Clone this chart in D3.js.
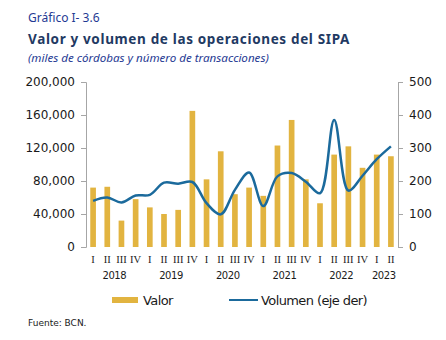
<!DOCTYPE html>
<html>
<head>
<meta charset="utf-8">
<script src="https://cdn.jsdelivr.net/npm/d3@7"></script>
<style>
	body { margin: 0; background: #fff; }
	svg text { fill: #1a1a1a; }
</style>
</head>
<body>
<svg id="chart" width="446" height="340"></svg>
<script>
// quarters 2018 I .. 2023 II
const years = ['2018', '2019', '2020', '2021', '2022', '2023'];
const quarters = ['I', 'II', 'III', 'IV'];
const periods = [];
years.forEach(y => quarters.forEach(q => {
	if (!(y === '2023' && (q === 'III' || q === 'IV'))) periods.push(`${y}-${q}`);
}));

// miles de córdobas
const valor = [72000, 73000, 32000, 58000, 48000, 40000, 45000, 165000, 82000, 116000, 64000, 72000,
	62000, 123000, 154000, 82000, 53000, 112000, 122000, 96000, 112000, 110000];
// número de transacciones
const volumen = [140, 150, 135, 156, 158, 195, 192, 197, 133, 99, 173, 226,
	124, 214, 224, 198, 163, 385, 171, 216, 266, 305];

const leftTicks = [0, 40000, 80000, 120000, 160000, 200000];
const rightTicks = [0, 100, 200, 300, 400, 500];

const gold = '#e2b440';
const blue = '#1b6a9c';
const navy = '#1f3a63';

const svg = d3.select('#chart');

const margins = { left: 86, right: 48, top: 82, bottom: 93 };
const width = 446 - margins.left - margins.right;
const height = 340 - margins.top - margins.bottom;

// header
svg.append('text')
	.attr('x', 28).attr('y', 22)
	.style('font', '12px "Noto Sans"')
	.style('fill', '#1f3a93')
	.text('Gráfico I- 3.6');

svg.append('text')
	.attr('x', 28).attr('y', 44)
	.style('font', 'bold 13.5px "Noto Sans"')
	.style('letter-spacing', '0.65px')
	.style('fill', navy)
	.text('Valor y volumen de las operaciones del SIPA');

svg.append('text')
	.attr('x', 28).attr('y', 62)
	.style('font', 'italic 11.6px "Noto Sans"')
	.style('fill', '#1f3a93')
	.text('(miles de córdobas y número de transacciones)');

const g = svg.append('g')
	.attr('transform', `translate(${margins.left},${margins.top})`);

const x = d3.scaleBand()
	.domain(periods)
	.range([0, width])
	.paddingInner(0.6)
	.paddingOuter(0.3);

const yLeft = d3.scaleLinear().domain([0, 200000]).range([height, 0]);
const yRight = d3.scaleLinear().domain([0, 500]).range([height, 0]);

const fmt = d3.format(',');

const axisL = g.append('g')
	.call(d3.axisLeft(yLeft).tickValues(leftTicks).tickFormat(fmt).tickSize(5).tickPadding(6));
const axisR = g.append('g')
	.attr('transform', `translate(${width},0)`)
	.call(d3.axisRight(yRight).tickValues(rightTicks).tickSize(5).tickPadding(6));

[axisL, axisR].forEach(a => {
	a.selectAll('path, line').attr('stroke', '#a6a6a6');
	a.selectAll('text').style('font', '12px "DejaVu Sans"').style('fill', '#1a1a1a');
});

// bars
g.selectAll('.bar')
	.data(valor)
	.enter().append('rect')
	.attr('class', 'bar')
	.attr('x', (d, i) => x(periods[i]))
	.attr('width', x.bandwidth())
	.attr('y', d => yLeft(d))
	.attr('height', d => height - yLeft(d))
	.attr('fill', gold);

// smoothed volume line
const line = d3.line()
	.x((d, i) => x(periods[i]) + x.bandwidth() / 2)
	.y(d => yRight(d))
	.curve(d3.curveCatmullRom.alpha(0.5));

g.append('path')
	.datum(volumen)
	.attr('fill', 'none')
	.attr('stroke', blue)
	.attr('stroke-width', 2.5)
	.attr('d', line);

// quarter labels
g.selectAll('.q')
	.data(periods)
	.enter().append('text')
	.attr('class', 'q')
	.attr('x', d => x(d) + x.bandwidth() / 2)
	.attr('y', height + 16)
	.attr('text-anchor', 'middle')
	.style('font', '10.5px "Liberation Serif"')
	.text(d => d.split('-')[1]);

// year labels centred under their quarters
g.selectAll('.yr')
	.data(years)
	.enter().append('text')
	.attr('class', 'yr')
	.attr('x', y => {
		const ps = periods.filter(p => p.startsWith(y));
		return (x(ps[0]) + x(ps[ps.length - 1]) + x.bandwidth()) / 2;
	})
	.attr('y', height + 32)
	.attr('text-anchor', 'middle')
	.style('font', '10px "DejaVu Sans"')
	.style('letter-spacing', '-0.4px')
	.text(y => y);

// legend
const legend = svg.append('g');
legend.append('rect')
	.attr('x', 112).attr('y', 297).attr('width', 26).attr('height', 6)
	.attr('fill', gold);
legend.append('text')
	.attr('x', 143).attr('y', 305)
	.style('font', '13px "DejaVu Sans"')
	.style('letter-spacing', '-0.6px')
	.text('Valor');
legend.append('line')
	.attr('x1', 229).attr('x2', 258).attr('y1', 300).attr('y2', 300)
	.attr('stroke', blue).attr('stroke-width', 2);
legend.append('text')
	.attr('x', 261).attr('y', 305)
	.style('font', '13px "DejaVu Sans"')
	.style('letter-spacing', '-0.6px')
	.text('Volumen (eje der)');

svg.append('text')
	.attr('x', 28).attr('y', 326)
	.style('font', '9px "DejaVu Sans"')
	.text('Fuente: BCN.');
</script>
</body>
</html>
